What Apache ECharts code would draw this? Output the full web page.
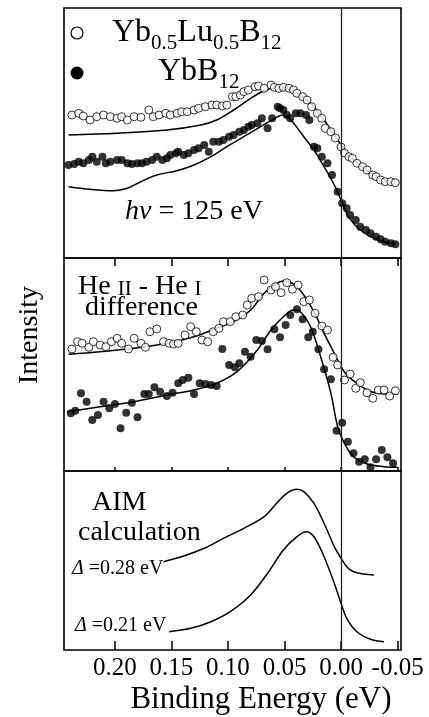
<!DOCTYPE html>
<html><head><meta charset="utf-8">
<script src="https://cdn.jsdelivr.net/npm/echarts@6/dist/echarts.min.js"></script>
<style>html,body{margin:0;padding:0;background:#fff}#c{width:429px;height:717px}</style>
</head><body><div id="c"></div>
<script>
// Binding energy tick labels (eV)
const xTicks = [0.20, 0.15, 0.10, 0.05, 0.00, -0.05];

// ---- Panel 1: hv = 125 eV (x: binding energy eV, y: intensity arb. units)
const p1_YbLu_points = [[0.238,14.3],[0.232,14.47],[0.228,14.2],[0.222,13.8],[0.216,14.13],[0.210,14.3],[0.204,14.13],[0.198,13.97],[0.194,14.13],[0.189,13.8],[0.183,14.13],[0.177,14.07],[0.170,14.8],[0.166,14.13],[0.161,14.3],[0.155,14.47],[0.151,14.3],[0.145,14.47],[0.141,14.63],[0.136,14.63],[0.130,14.8],[0.126,14.97],[0.120,15.13],[0.114,15.3],[0.110,15.3],[0.105,15.2],[0.101,15.3],[0.096,16.13],[0.093,16.13],[0.089,16.3],[0.086,16.63],[0.082,16.8],[0.076,17.13],[0.073,17.2],[0.068,16.97],[0.062,17.3],[0.059,17.07],[0.055,16.97],[0.051,17.07],[0.046,16.97],[0.042,16.8],[0.039,16.47],[0.034,16.13],[0.030,15.8],[0.026,15.13],[0.021,14.47],[0.017,13.97],[0.014,12.97],[0.009,12.63],[0.005,12.0],[0.000,11.1],[-0.003,10.5],[-0.007,10.13],[-0.010,9.97],[-0.014,9.47],[-0.019,9.13],[-0.023,8.8],[-0.028,8.3],[-0.031,8.13],[-0.035,7.8],[-0.039,7.63],[-0.044,7.63],[-0.048,7.53]];
const p1_YbLu_fit = [[0.241,12.3],[0.198,12.47],[0.154,12.8],[0.124,13.3],[0.110,13.8],[0.095,14.8],[0.080,15.97],[0.068,16.73],[0.056,17.07],[0.048,16.97],[0.039,16.47],[0.027,15.47],[0.015,13.8],[0.003,11.8],[-0.008,10.13],[-0.020,8.97],[-0.032,8.13],[-0.044,7.53],[-0.048,7.47]];
const p1_YbB_points = [[0.241,9.3],[0.236,9.4],[0.232,9.63],[0.228,9.47],[0.223,9.8],[0.220,10.13],[0.216,9.63],[0.211,10.13],[0.208,9.47],[0.204,9.63],[0.198,9.8],[0.194,9.8],[0.189,9.47],[0.185,9.4],[0.180,9.47],[0.176,9.47],[0.172,9.63],[0.167,9.8],[0.163,10.13],[0.158,9.8],[0.154,9.97],[0.151,10.3],[0.146,10.47],[0.144,10.63],[0.139,10.3],[0.135,10.47],[0.130,10.8],[0.126,10.97],[0.121,11.3],[0.117,10.63],[0.113,11.63],[0.108,11.63],[0.104,11.8],[0.099,12.13],[0.095,12.3],[0.090,12.63],[0.086,12.8],[0.082,13.13],[0.079,13.3],[0.074,13.47],[0.070,13.97],[0.065,12.97],[0.061,13.97],[0.056,15.13],[0.054,14.97],[0.051,14.8],[0.048,14.3],[0.045,13.97],[0.040,14.47],[0.036,14.47],[0.031,14.3],[0.028,13.8],[0.024,11.13],[0.021,10.97],[0.017,10.13],[0.012,9.47],[0.008,8.3],[0.003,6.63],[-0.001,5.47],[-0.005,4.97],[-0.008,4.3],[-0.013,3.8],[-0.017,3.13],[-0.022,2.8],[-0.026,2.47],[-0.031,2.13],[-0.035,1.87],[-0.039,1.63],[-0.044,1.47],[-0.048,1.37]];
const p1_YbB_fit = [[0.241,7.13],[0.222,6.87],[0.201,6.73],[0.189,6.97],[0.177,7.63],[0.163,8.3],[0.145,8.73],[0.130,9.3],[0.115,10.13],[0.101,11.13],[0.086,12.13],[0.071,13.13],[0.056,14.13],[0.052,14.3],[0.048,14.13],[0.042,13.47],[0.033,12.13],[0.024,10.8],[0.015,9.13],[0.006,7.3],[0.000,5.8],[-0.005,4.47],[-0.011,3.47],[-0.017,2.8],[-0.026,2.13],[-0.035,1.73],[-0.048,1.37]];

// ---- Panel 2: He II - He I difference
const p2_YbLu_points = [[0.238,12.2],[0.233,12.93],[0.229,12.77],[0.223,12.37],[0.219,12.93],[0.213,12.6],[0.208,12.43],[0.203,12.93],[0.198,13.27],[0.194,12.77],[0.188,12.2],[0.183,13.27],[0.177,12.77],[0.173,12.37],[0.169,13.93],[0.163,14.2],[0.157,12.93],[0.152,12.77],[0.148,12.7],[0.144,12.77],[0.138,13.6],[0.133,14.43],[0.128,13.93],[0.123,13.1],[0.118,12.93],[0.113,13.93],[0.108,14.27],[0.104,14.93],[0.098,14.93],[0.093,15.43],[0.087,15.6],[0.083,16.6],[0.079,17.27],[0.073,17.43],[0.068,19.1],[0.062,18.1],[0.058,18.43],[0.053,17.83],[0.048,18.83],[0.043,18.17],[0.038,18.6],[0.033,16.93],[0.028,17.1],[0.023,15.77],[0.017,14.5],[0.012,14.1],[0.007,11.37],[0.003,10.6],[-0.003,9.1],[-0.008,9.7],[-0.013,8.27],[-0.017,8.83],[-0.023,7.83],[-0.028,7.27],[-0.033,8.1],[-0.038,8.1],[-0.043,7.5],[-0.048,8.03]];
const p2_YbLu_fit = [[0.241,11.67],[0.213,11.93],[0.183,12.27],[0.154,12.77],[0.130,13.43],[0.110,14.27],[0.095,14.93],[0.080,16.1],[0.068,17.77],[0.059,18.6],[0.051,19.0],[0.045,18.87],[0.039,18.43],[0.033,17.6],[0.024,15.93],[0.015,13.77],[0.006,11.77],[0.000,10.43],[-0.005,9.6],[-0.014,8.77],[-0.023,8.1],[-0.032,7.77],[-0.050,7.67]];
const p2_YbB_points = [[0.239,5.77],[0.235,6.03],[0.230,7.77],[0.225,6.93],[0.220,5.1],[0.215,5.6],[0.210,6.93],[0.205,6.27],[0.200,6.7],[0.195,4.27],[0.190,5.83],[0.185,6.83],[0.180,5.37],[0.174,7.7],[0.170,7.7],[0.165,8.37],[0.160,7.93],[0.154,7.5],[0.149,7.83],[0.144,8.77],[0.140,9.1],[0.135,9.33],[0.130,7.7],[0.125,8.77],[0.120,8.7],[0.115,8.6],[0.110,8.5],[0.105,12.2],[0.099,10.6],[0.094,10.37],[0.090,10.77],[0.085,11.93],[0.080,11.43],[0.075,13.1],[0.070,13.0],[0.065,12.17],[0.059,14.17],[0.054,13.37],[0.049,14.6],[0.045,15.6],[0.039,16.17],[0.034,15.17],[0.029,13.37],[0.025,13.93],[0.020,12.17],[0.015,10.17],[0.009,9.17],[0.004,4.03],[-0.001,4.83],[-0.006,2.93],[-0.011,1.77],[-0.016,0.93],[-0.021,1.17],[-0.026,0.37],[-0.031,1.17],[-0.036,2.1],[-0.041,1.37],[-0.046,0.77]];
const p2_YbB_fit = [[0.242,5.93],[0.213,6.43],[0.183,6.93],[0.154,7.6],[0.130,8.1],[0.110,8.77],[0.092,9.93],[0.074,12.1],[0.062,14.1],[0.051,15.43],[0.042,16.1],[0.036,15.93],[0.027,14.43],[0.018,11.43],[0.009,7.77],[0.003,4.43],[-0.003,2.77],[-0.011,1.43],[-0.023,0.7],[-0.038,0.43],[-0.050,0.37]];

// ---- Panel 3: AIM calculation
const p3_delta028 = [[0.157,8.83],[0.139,9.4],[0.121,10.17],[0.104,11.17],[0.086,12.17],[0.068,13.33],[0.057,14.67],[0.048,15.67],[0.039,16.07],[0.033,15.83],[0.024,14.67],[0.015,12.67],[0.006,10.33],[0.000,9.17],[-0.005,8.33],[-0.011,7.83],[-0.020,7.6],[-0.029,7.5]];
const p3_delta021 = [[0.152,1.83],[0.133,2.17],[0.115,2.83],[0.098,3.83],[0.080,5.5],[0.065,7.67],[0.051,10.0],[0.039,11.33],[0.031,11.83],[0.024,11.33],[0.015,9.33],[0.006,6.67],[0.000,4.67],[-0.005,3.17],[-0.014,1.83],[-0.026,1.07],[-0.038,0.83]];

const SERIF = "'Liberation Serif','DejaVu Serif',serif";
const X_MIN = -0.053, X_MAX = 0.245;

function xAxisFor(i, opts) {
  return Object.assign({
    type: 'value', gridIndex: i, min: X_MIN, max: X_MAX, inverse: true,
    splitLine: { show: false },
    axisLine: { show: false },
    axisTick: { show: true, inside: true, length: 4, customValues: xTicks, lineStyle: { color: '#000', width: 1.5 } },
    axisLabel: { show: false, customValues: xTicks }
  }, opts || {});
}
function yAxisFor(i, max) {
  return { type: 'value', gridIndex: i, min: 0, max: max, show: false };
}
const zeroLine = {
  symbol: 'none', silent: true, label: { show: false },
  lineStyle: { color: '#222', width: 1.3, type: 'solid' },
  data: [{ xAxis: 0 }]
};
function openPts(name, data, xi) {
  return { name, type: 'scatter', xAxisIndex: xi, yAxisIndex: xi, data, symbol: 'circle', symbolSize: 8,
    itemStyle: { color: '#fff', borderColor: '#000', borderWidth: 1 }, z: 3 };
}
function filledPts(name, data, xi) {
  return { name, type: 'scatter', xAxisIndex: xi, yAxisIndex: xi, data, symbol: 'circle', symbolSize: 8,
    itemStyle: { color: '#000' }, z: 3 };
}
function fitLine(name, data, xi, extra) {
  return Object.assign({ name, type: 'line', xAxisIndex: xi, yAxisIndex: xi, data, showSymbol: false, smooth: 0.35,
    lineStyle: { color: '#000', width: 1.5 }, z: 2 }, extra || {});
}

const chart = echarts.init(document.getElementById('c'), null, { renderer: 'canvas' });
const gridCommon = { left: 64, width: 337, show: true, borderColor: '#000', borderWidth: 1.6, backgroundColor: 'transparent' };
chart.setOption({
  animation: false,
  backgroundColor: '#fff',
  grid: [
    Object.assign({ top: 8, height: 250 }, gridCommon),
    Object.assign({ top: 258, height: 213 }, gridCommon),
    Object.assign({ top: 471, height: 179 }, gridCommon)
  ],
  xAxis: [
    xAxisFor(0, { position: 'top', axisTick: { show: true, inside: true, length: 8, customValues: xTicks, lineStyle: { color: '#000', width: 1.5 } } }),
    xAxisFor(1, { position: 'bottom' }),
    xAxisFor(2, { position: 'bottom',
      axisTick: { show: true, inside: true, length: 9, customValues: xTicks, lineStyle: { color: '#000', width: 1.5 } },
      axisLabel: { show: true, customValues: xTicks, margin: 6, color: '#000', fontSize: 25, fontFamily: SERIF,
        formatter: v => v.toFixed(2) } })
  ],
  yAxis: [yAxisFor(0, 25), yAxisFor(1, 21.3), yAxisFor(2, 17.9)],
  series: [
    fitLine('Yb0.5Lu0.5B12 fit', p1_YbLu_fit, 0, { markLine: zeroLine }),
    fitLine('YbB12 fit', p1_YbB_fit, 0),
    openPts('Yb0.5Lu0.5B12', p1_YbLu_points, 0),
    filledPts('YbB12', p1_YbB_points, 0),
    fitLine('Yb0.5Lu0.5B12 diff fit', p2_YbLu_fit, 1, { markLine: zeroLine }),
    fitLine('YbB12 diff fit', p2_YbB_fit, 1),
    openPts('Yb0.5Lu0.5B12 diff', p2_YbLu_points, 1),
    filledPts('YbB12 diff', p2_YbB_points, 1),
    fitLine('AIM Δ=0.28 eV', p3_delta028, 2, { markLine: zeroLine }),
    fitLine('AIM Δ=0.21 eV', p3_delta021, 2)
  ],
  graphic: [
    { type: 'circle', shape: { cx: 77, cy: 33, r: 6 }, style: { fill: '#fff', stroke: '#000', lineWidth: 1.2 }, z: 10 },
    { type: 'circle', shape: { cx: 77, cy: 73, r: 6.5 }, style: { fill: '#000' }, z: 10 },
    { type: 'text', x: 112, y: 33, z: 10, style: {
      text: '{m|Yb}{s|0.5}{m|Lu}{s|0.5}{m|B}{s|12}', fill: '#000', align: 'left', verticalAlign: 'middle',
      rich: { m: { fontSize: 32, fontFamily: SERIF, lineHeight: 40 }, s: { fontSize: 21, fontFamily: SERIF, lineHeight: 40, padding: [20, 0, 0, 0] } } } },
    { type: 'text', x: 158, y: 72, z: 10, style: {
      text: '{m|YbB}{s|12}', fill: '#000', align: 'left', verticalAlign: 'middle',
      rich: { m: { fontSize: 32, fontFamily: SERIF, lineHeight: 40 }, s: { fontSize: 21, fontFamily: SERIF, lineHeight: 40, padding: [20, 0, 0, 0] } } } },
    { type: 'text', x: 125, y: 212, z: 10, style: {
      text: '{i|hν}{m| = 125 eV}', fill: '#000', align: 'left', verticalAlign: 'middle',
      rich: { i: { fontSize: 28, fontFamily: SERIF, fontStyle: 'italic' }, m: { fontSize: 28, fontFamily: SERIF } } } },
    { type: 'text', x: 78, y: 287, z: 10, style: {
      text: '{m|He }{c|II}{m| - He }{c|I}', fill: '#000', align: 'left', verticalAlign: 'middle',
      rich: { m: { fontSize: 28, fontFamily: SERIF, lineHeight: 34 }, c: { fontSize: 21, fontFamily: SERIF, lineHeight: 34, padding: [4, 0, 0, 0] } } } },
    { type: 'text', x: 85, y: 308, z: 10, style: { text: 'difference', fill: '#000', align: 'left', verticalAlign: 'middle', font: '28px ' + SERIF } },
    { type: 'text', x: 92, y: 503, z: 10, style: { text: 'AIM', fill: '#000', align: 'left', verticalAlign: 'middle', font: '28px ' + SERIF } },
    { type: 'text', x: 78, y: 533, z: 10, style: { text: 'calculation', fill: '#000', align: 'left', verticalAlign: 'middle', font: '28px ' + SERIF } },
    { type: 'text', x: 72, y: 569, z: 10, style: {
      text: '{i|Δ}{m| =0.28 eV}', fill: '#000', align: 'left', verticalAlign: 'middle',
      rich: { i: { fontSize: 20, fontFamily: SERIF, fontStyle: 'italic' }, m: { fontSize: 20, fontFamily: SERIF } } } },
    { type: 'text', x: 75, y: 626, z: 10, style: {
      text: '{i|Δ}{m| =0.21 eV}', fill: '#000', align: 'left', verticalAlign: 'middle',
      rich: { i: { fontSize: 20, fontFamily: SERIF, fontStyle: 'italic' }, m: { fontSize: 20, fontFamily: SERIF } } } },
    { type: 'text', x: 261, y: 700, z: 10, style: { text: 'Binding Energy (eV)', fill: '#000', align: 'center', verticalAlign: 'middle', font: '31px ' + SERIF } },
    { type: 'text', x: 30, y: 335, rotation: Math.PI / 2, z: 10, style: { text: 'Intensity', fill: '#000', align: 'center', verticalAlign: 'middle', font: '28px ' + SERIF } }
  ]
});
</script></body></html>
